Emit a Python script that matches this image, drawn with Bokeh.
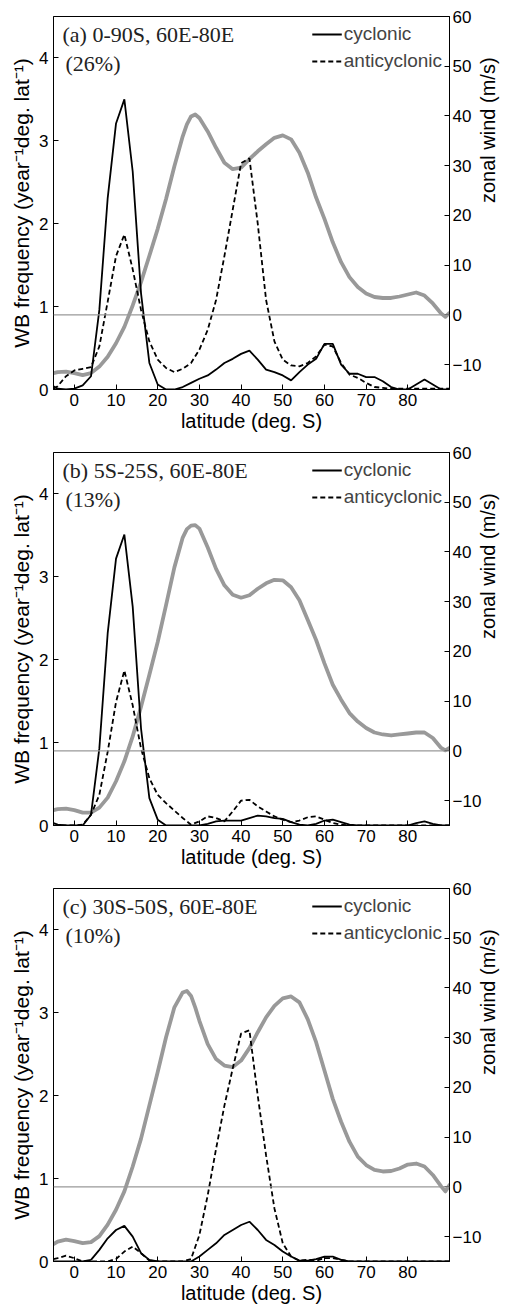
import math

from bokeh.plotting import figure
from bokeh.models import Range1d, LinearAxis, Span, Label, Legend, LegendItem, FixedTicker
from bokeh.layouts import column
from bokeh.embed import file_html
from bokeh.resources import INLINE

# latitude grid (deg. S) of the wave-breaking frequency curves
wb_lat = [-5, -4, -2, 0, 2, 4, 6, 8, 10, 12, 14, 16, 18, 20, 22, 24, 26, 28, 30, 32,
          34, 36, 38, 40, 42, 44, 46, 48, 50, 52, 54, 56, 58, 60, 62, 64, 66, 68, 70,
          72, 74, 76, 78, 80, 82, 84, 86, 88, 90]

# latitude grid (deg. S) of the zonal wind profiles
wind_lat = [-5, -4, -2, 0, 2, 4, 6, 8, 10, 12, 14, 16, 18, 20, 22, 24, 26, 27, 28, 29,
            30, 32, 34, 36, 38, 40, 42, 44, 46, 48, 50, 52, 54, 56, 58, 60, 62, 64, 66,
            68, 70, 72, 74, 76, 78, 80, 82, 84, 86, 88, 89, 90]

# (a) 0-90S, 60E-80E
cyc_a = [0.04, 0.01, 0.0, 0.01, 0.05, 0.16, 0.96, 2.31, 3.21, 3.50, 2.63, 1.16, 0.32, 0.06,
         0.0, 0.0, 0.03, 0.08, 0.13, 0.17, 0.24, 0.32, 0.37, 0.43, 0.47, 0.36, 0.24, 0.21,
         0.17, 0.11, 0.21, 0.30, 0.37, 0.55, 0.55, 0.30, 0.19, 0.19, 0.15, 0.15, 0.10, 0.03,
         0.0, 0.0, 0.06, 0.12, 0.06, 0.0, 0.0]
anti_a = [0.01, 0.04, 0.16, 0.23, 0.25, 0.27, 0.52, 1.06, 1.61, 1.87, 1.45, 0.96, 0.58, 0.36,
          0.26, 0.21, 0.25, 0.32, 0.48, 0.72, 1.08, 1.61, 2.17, 2.73, 2.79, 2.0, 1.08, 0.58,
          0.36, 0.29, 0.28, 0.32, 0.40, 0.54, 0.52, 0.32, 0.18, 0.14, 0.08, 0.03, 0.02, 0.01,
          0.01, 0.01, 0.01, 0.01, 0.01, 0.01, 0.01]
wind_a = [-11.7, -11.5, -11.4, -11.7, -12.1, -11.7, -10.4, -8.4, -5.7, -2.4, 1.9, 6.6, 11.9,
          17.3, 23.3, 29.9, 35.9, 38.3, 39.9, 40.3, 39.6, 36.9, 33.6, 30.6, 29.3, 29.6, 31.3,
          32.9, 34.3, 35.6, 36.1, 35.3, 32.6, 28.6, 23.6, 19.3, 14.6, 10.6, 7.6, 5.6, 4.3,
          3.6, 3.4, 3.4, 3.7, 4.1, 4.5, 3.9, 2.3, 0.3, -0.4, 0.4]

# (b) 5S-25S, 60E-80E
cyc_b = [0.03, 0.01, 0.0, 0.0, 0.0, 0.13, 0.93, 2.32, 3.22, 3.51, 2.64, 1.17, 0.33, 0.07,
         0.0, 0.0, 0.0, 0.0, 0.0, 0.02, 0.05, 0.06, 0.06, 0.06, 0.09, 0.12, 0.11, 0.09,
         0.08, 0.04, 0.01, 0.0, 0.02, 0.06, 0.07, 0.04, 0.01, 0.0, 0.0, 0.0, 0.0, 0.0,
         0.0, 0.0, 0.03, 0.05, 0.02, 0.0, 0.0]
anti_b = [0.0, 0.0, 0.0, 0.0, 0.01, 0.13, 0.37, 0.89, 1.49, 1.87, 1.45, 0.93, 0.57, 0.37,
          0.27, 0.18, 0.09, 0.01, 0.05, 0.11, 0.09, 0.05, 0.17, 0.30, 0.31, 0.23, 0.17, 0.11,
          0.07, 0.04, 0.06, 0.10, 0.11, 0.07, 0.03, 0.01, 0.0, 0.0, 0.0, 0.0, 0.0, 0.0,
          0.0, 0.0, 0.0, 0.0, 0.0, 0.0, 0.0]
wind_b = [-11.9, -11.7, -11.6, -11.9, -12.4, -12.4, -11.4, -9.4, -6.1, -2.1, 2.9, 8.9, 15.3,
          21.9, 29.3, 36.9, 42.9, 44.6, 45.3, 45.4, 44.7, 40.9, 36.6, 33.3, 31.4, 30.8, 31.3,
          32.6, 33.7, 34.4, 34.3, 32.9, 30.3, 26.3, 22.3, 17.6, 13.3, 10.3, 7.6, 5.9, 4.6,
          3.7, 3.3, 3.1, 3.3, 3.5, 3.7, 3.7, 2.6, 0.6, 0.1, 0.6]

# (c) 30S-50S, 60E-80E
cyc_c = [0.0, 0.0, 0.0, 0.0, 0.0, 0.02, 0.14, 0.28, 0.38, 0.43, 0.30, 0.10, 0.02, 0.0,
         0.0, 0.0, 0.0, 0.0, 0.06, 0.14, 0.22, 0.32, 0.38, 0.44, 0.48, 0.38, 0.26, 0.20,
         0.12, 0.06, 0.01, 0.01, 0.03, 0.06, 0.06, 0.02, 0.0, 0.0, 0.0, 0.0, 0.0, 0.0,
         0.0, 0.0, 0.0, 0.0, 0.0, 0.0, 0.0]
anti_c = [0.03, 0.04, 0.07, 0.04, 0.0, 0.0, 0.0, 0.0, 0.03, 0.12, 0.18, 0.10, 0.01, 0.0,
          0.0, 0.0, 0.0, 0.03, 0.32, 0.80, 1.36, 1.88, 2.33, 2.75, 2.79, 2.0, 1.28, 0.64,
          0.22, 0.06, 0.01, 0.02, 0.01, 0.04, 0.04, 0.02, 0.0, 0.0, 0.0, 0.0, 0.0, 0.0,
          0.0, 0.0, 0.0, 0.0, 0.0, 0.0, 0.0]
wind_c = [-11.5, -11.0, -10.6, -10.9, -11.3, -11.1, -9.9, -7.6, -4.6, -0.9, 4.1, 9.7, 16.4,
          23.1, 30.1, 36.1, 39.1, 39.4, 38.4, 36.1, 33.4, 28.7, 25.7, 24.4, 24.1, 25.4, 27.9,
          31.1, 34.1, 36.4, 37.9, 38.3, 37.1, 33.7, 29.1, 23.4, 17.7, 13.1, 9.1, 6.1, 4.4,
          3.4, 3.1, 3.2, 3.7, 4.5, 4.7, 4.1, 2.4, 0.1, -0.9, 0.4]

panel_titles = ["(a) 0-90S, 60E-80E", "(b) 5S-25S, 60E-80E", "(c) 30S-50S, 60E-80E"]
panel_shares = ["(26%)", "(13%)", "(10%)"]

x_ticks = [0, 10, 20, 30, 40, 50, 60, 70, 80]
wb_ticks = [0, 1, 2, 3, 4]
wind_ticks = [-10, 0, 10, 20, 30, 40, 50, 60]

SANS = "Liberation Sans"
SERIF = "Liberation Serif"
GREY = "#999999"


def style_axis(ax, label_size="20px"):
    ax.axis_line_color = "black"
    ax.major_tick_line_color = "black"
    ax.major_tick_in = 5
    ax.major_tick_out = 0
    ax.minor_tick_line_color = None
    ax.major_label_text_font = SANS
    ax.major_label_text_font_size = "17px"
    ax.major_label_text_color = "black"
    ax.axis_label_text_font = SANS
    ax.axis_label_text_font_size = label_size
    ax.axis_label_text_font_style = "normal"
    ax.axis_label_text_color = "black"


def make_panel(title, share, cyc, anti, wind, height):
    p = figure(width=513, height=height, output_backend="svg", toolbar_location=None,
               x_range=Range1d(-5, 90), y_range=Range1d(0, 4.5),
               min_border_left=53, min_border_right=58, min_border_top=16,
               min_border_bottom=height - 16 - 373)
    p.extra_y_ranges = {"wind": Range1d(-15, 60)}
    p.xgrid.visible = False
    p.ygrid.visible = False
    p.outline_line_color = "black"
    p.outline_line_alpha = 1.0
    p.background_fill_color = "white"
    p.border_fill_color = "white"

    # zonal wind and its zero line
    p.add_layout(Span(location=0, dimension="width", y_range_name="wind",
                      line_color=GREY, line_width=1.2))
    p.line(wind_lat, wind, y_range_name="wind", line_color=GREY, line_width=3.8,
           line_join="round", line_cap="round")

    # wave-breaking frequencies
    r_cyc = p.line(wb_lat, cyc, line_color="black", line_width=1.8)
    r_anti = p.line(wb_lat, anti, line_color="black", line_width=1.8, line_dash="5 3")

    # axes
    xa = p.xaxis[0]
    xa.ticker = FixedTicker(ticks=x_ticks)
    xa.axis_label = "latitude (deg. S)"
    style_axis(xa)
    xa.major_label_standoff = 4
    xa.axis_label_standoff = 1

    ya = p.yaxis[0]
    ya.ticker = FixedTicker(ticks=wb_ticks)
    ya.axis_label = "WB frequency (year\u207b\u00b9deg. lat\u207b\u00b9)"
    style_axis(ya, "21px")
    ya.major_label_standoff = 5
    ya.axis_label_standoff = 3

    # wind axis on the right, its title reading upwards
    wa = LinearAxis(y_range_name="wind", ticker=FixedTicker(ticks=wind_ticks),
                    axis_label="zonal wind (m/s)")
    style_axis(wa)
    wa.major_label_standoff = 3
    wa.major_label_overrides = {-10: "\u221210"}
    wa.axis_label_standoff = 4
    wa.axis_label_orientation = math.pi / 2
    p.add_layout(wa, "right")

    # legend
    legend = Legend(items=[LegendItem(label="cyclonic", renderers=[r_cyc]),
                           LegendItem(label="anticyclonic", renderers=[r_anti])],
                    location="top_right")
    legend.border_line_alpha = 0
    legend.background_fill_alpha = 0
    legend.label_text_font = SANS
    legend.label_text_font_size = "19px"
    legend.glyph_width = 30
    legend.glyph_height = 20
    legend.label_standoff = 2
    legend.label_height = 20
    legend.spacing = 5
    legend.padding = 7
    legend.margin = 0
    p.add_layout(legend)

    # panel annotations
    p.add_layout(Label(x=-5, y=4.5, x_offset=9, y_offset=-18, text=title,
                       text_font=SERIF, text_font_size="22px", text_baseline="middle",
                       text_color="#222222"))
    p.add_layout(Label(x=-5, y=4.5, x_offset=12, y_offset=-47, text=share,
                       text_font=SERIF, text_font_size="22px", text_baseline="middle",
                       text_color="#222222"))
    return p


p_a = make_panel(panel_titles[0], panel_shares[0], cyc_a, anti_a, wind_a, 436)
p_b = make_panel(panel_titles[1], panel_shares[1], cyc_b, anti_b, wind_b, 436)
p_c = make_panel(panel_titles[2], panel_shares[2], cyc_c, anti_c, wind_c, 435)

layout = column(p_a, p_b, p_c, spacing=0)
open("out.html", "w").write(file_html(layout, INLINE))
